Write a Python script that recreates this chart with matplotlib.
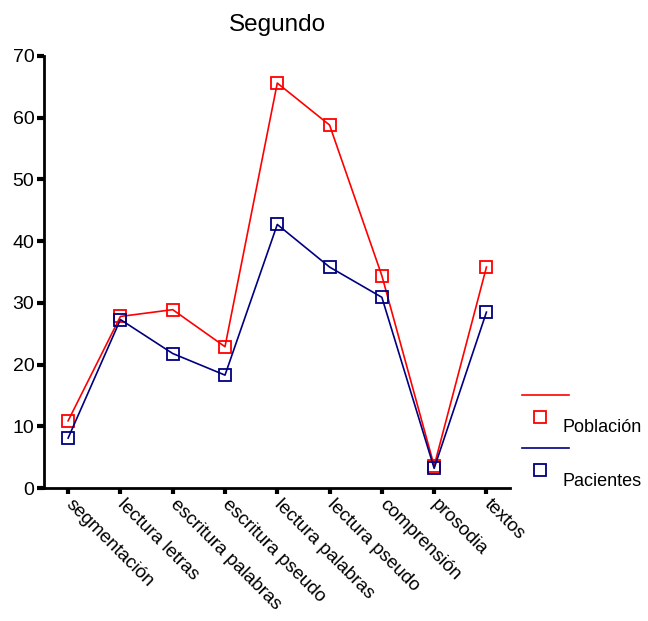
import matplotlib.pyplot as plt
from matplotlib.lines import Line2D

plt.rcParams['font.family'] = ['Liberation Sans', 'DejaVu Sans']

categorias = ["segmentación", "lectura letras", "escritura palabras", "escritura pseudo",
              "lectura palabras", "lectura pseudo", "comprensión", "prosodia", "textos"]
poblacion = [10.9, 27.8, 28.9, 22.9, 65.6, 58.8, 34.4, 3.6, 35.8]
pacientes = [8.1, 27.3, 21.8, 18.3, 42.7, 35.8, 30.9, 3.2, 28.5]
yticks = [0, 10, 20, 30, 40, 50, 60, 70]

rojo = "#ff0000"
azul = "#000080"

fig = plt.figure(figsize=(6.48, 6.21), dpi=100)
ax = fig.add_axes([0.068, 0.214, 0.719, 0.696])

x = list(range(len(categorias)))
ax.plot(x, poblacion, color=rojo, lw=1.2, marker="s", ms=8, mfc="none", mec=rojo, mew=1.3)
ax.plot(x, pacientes, color=azul, lw=1.2, marker="s", ms=8, mfc="none", mec=azul, mew=1.3)

ax.set_xlim(-0.46, 8.45)
ax.set_ylim(0, 70)
ax.set_yticks(yticks)
ax.set_xticks(x)
ax.set_xticklabels(categorias, rotation=-45, ha="left", va="center",
                   rotation_mode="anchor", fontsize=13.5)
ax.tick_params(axis="y", labelsize=14, direction="out", length=5, width=3, pad=2)
ax.tick_params(axis="x", direction="out", length=4, width=3, pad=6)
for s in ["top", "right"]:
    ax.spines[s].set_visible(False)
for s in ["left", "bottom"]:
    ax.spines[s].set_linewidth(2)
ax.set_title("Segundo", fontsize=17.5, pad=18)

# leyenda
def fx(px):
    return px / 648
def fy(py):
    return 1 - py / 621

for (nombre, col, yl) in [("Población", rojo, 395), ("Pacientes", azul, 448)]:
    fig.add_artist(Line2D([fx(522), fx(569)], [fy(yl), fy(yl)], color=col, lw=1.2))
    fig.add_artist(Line2D([fx(540)], [fy(yl + 22)], color=col, marker="s", ms=8,
                          mfc="none", mec=col, mew=1.3, ls="none"))
    fig.text(fx(563), fy(yl + 33), nombre, fontsize=13, va="center", ha="left")

fig.savefig("out.png", dpi=100)
